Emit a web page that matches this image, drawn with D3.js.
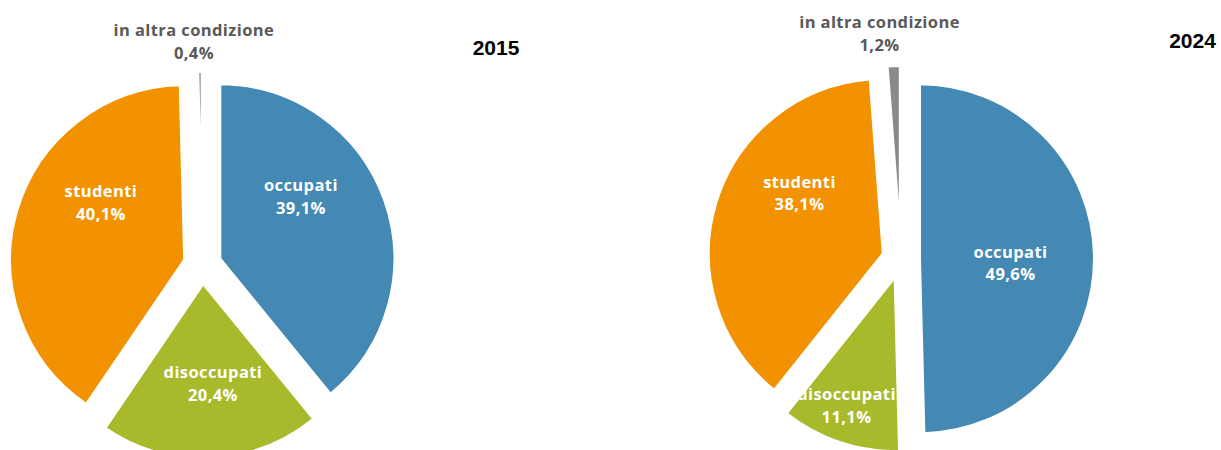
<!DOCTYPE html>
<html>
<head>
<meta charset="utf-8">
<script src="https://cdn.jsdelivr.net/npm/d3@7/dist/d3.min.js"></script>
<style>
  html, body { margin: 0; padding: 0; background: #ffffff; }
  svg { display: block; }
</style>
</head>
<body>
<div id="chart"></div>
<script>
// ---- data ----
const categories = ["occupati", "disoccupati", "studenti", "in altra condizione"];
const values2015 = [39.1, 20.4, 40.1, 0.4];
const values2024 = [49.6, 11.1, 38.1, 1.2];
const years = ["2015", "2024"];
const colors = ["#4389B4", "#A8B92B", "#F39200", "#8A8A8A"];

// ---- layout ----
const W = 1221, H = 450;
const R = 175, explode = 18.5;
const charts = [
  { year: years[0], values: values2015, cx: 202.4, cy: 265, yearX: 496, yearY: 55,
    labelOffsets: [[98.5, -70], [10.5, 117], [-101.5, -64], [-8.5, -225]] },
  { year: years[1], values: values2024, cx: 901, cy: 259, yearX: 1192.5, yearY: 48,
    labelOffsets: [[109.5, 2.8], [-54.5, 145.2], [-101.5, -67.5], [-21.5, -227]] }
];

const svg = d3.select("#chart").append("svg")
  .attr("width", W).attr("height", H);

const pie = d3.pie().sort(null).value(d => d.value);
const arc = d3.arc().innerRadius(0).outerRadius(R);
const fmt = v => d3.format(".1f")(v).replace(".", ",") + "%";

charts.forEach(ch => {
  const data = categories.map((c, i) => ({ cat: c, value: ch.values[i], idx: i }));
  const arcs = pie(data);
  const g = svg.append("g").attr("transform", `translate(${ch.cx},${ch.cy})`);

  g.selectAll("path.slice").data(arcs).enter().append("path")
    .attr("class", "slice")
    .attr("d", arc)
    .attr("fill", d => colors[d.data.idx])
    .attr("stroke", "#ffffff")
    .attr("stroke-width", 3)
    .attr("stroke-linejoin", "miter")
    .attr("transform", d => {
      const mid = (d.startAngle + d.endAngle) / 2;
      return `translate(${explode * Math.sin(mid)},${-explode * Math.cos(mid)})`;
    });

  const labelStyle = sel => sel
    .attr("text-anchor", "middle")
    .attr("font-family", "'Open Sans', sans-serif")
    .attr("font-weight", 700)
    .attr("font-size", 16.5)
    .attr("letter-spacing", 0.4)
    .attr("fill", d => d.data.idx === 3 ? "#595959" : "#ffffff");

  const pos = (d, dy) => {
    const o = ch.labelOffsets[d.data.idx];
    return `translate(${o[0]},${o[1] + dy})`;
  };

  g.selectAll("text.name").data(arcs).enter().append("text")
    .attr("class", "name").call(labelStyle)
    .attr("transform", d => pos(d, -4))
    .text(d => d.data.cat);

  g.selectAll("text.pct").data(arcs).enter().append("text")
    .attr("class", "pct").call(labelStyle)
    .attr("transform", d => pos(d, 18.5))
    .text(d => fmt(d.data.value));

  svg.append("text")
    .attr("x", ch.yearX).attr("y", ch.yearY)
    .attr("text-anchor", "middle")
    .attr("font-family", "'Liberation Sans', Arial, sans-serif")
    .attr("font-weight", 700)
    .attr("font-size", 21)
    .attr("fill", "#000000")
    .text(ch.year);
});
</script>
</body>
</html>
